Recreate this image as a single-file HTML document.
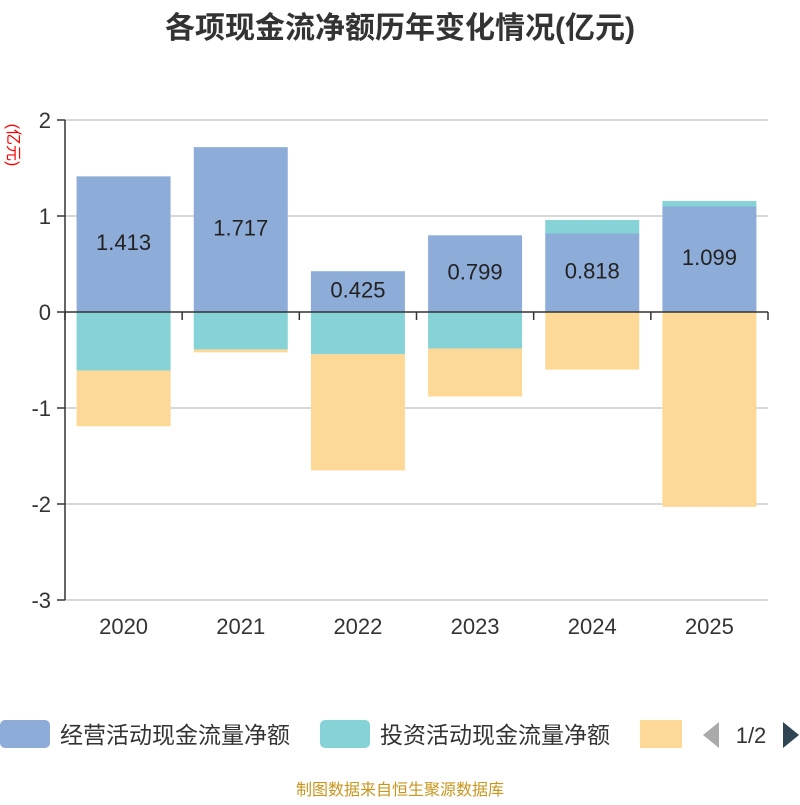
<!DOCTYPE html>
<html><head><meta charset="utf-8"><style>
body{margin:0;background:#fff;width:800px;height:800px;overflow:hidden;font-family:"Liberation Sans","Noto Sans CJK SC",sans-serif}
</style></head><body>
<svg id="c" width="800" height="800" xmlns="http://www.w3.org/2000/svg" font-family="Liberation Sans, Noto Sans CJK SC, sans-serif">
<text x="400" y="38" text-anchor="middle" font-size="30" font-weight="bold" fill="#333">各项现金流净额历年变化情况(亿元)</text>
<text transform="translate(8,145) rotate(90)" text-anchor="middle" font-size="16" fill="red">(亿元)</text>
<g id="grid"></g><g id="bars"></g><g id="axes"></g>
<g>
<rect x="0" y="720" width="50" height="28" rx="5" fill="#8eacd8"/>
<text x="60" y="743" font-size="23" fill="#333">经营活动现金流量净额</text>
<rect x="320" y="720" width="50" height="28" rx="5" fill="#85d3d6"/>
<text x="380" y="743" font-size="23" fill="#333">投资活动现金流量净额</text>
<rect x="640" y="720" width="42" height="28" fill="#fed896"/>
<polygon points="719,722 719,748 703,735" fill="#aaa"/>
<text x="751" y="743" text-anchor="middle" font-size="22" fill="#333">1/2</text>
<polygon points="783,722 783,748 799,735" fill="#2f4554"/>
</g>
<text x="400" y="795" text-anchor="middle" font-size="16" fill="#c8961e">制图数据来自恒生聚源数据库</text>
</svg>
<script>
const categories=["2020","2021","2022","2023","2024","2025"];
const operating=[1.413,1.717,0.425,0.799,0.818,1.099];
const investing=[-0.61,-0.39,-0.44,-0.38,0.14,0.057];
const financing=[-0.58,-0.03,-1.21,-0.5,-0.6,-2.03];
const yTicks=[2,1,0,-1,-2,-3];
const NS="http://www.w3.org/2000/svg";
const X0=65,X1=768,Y0=312,PU=96;
const y=v=>Y0-v*PU;
const cw=(X1-X0)/categories.length;
const xc=i=>X0+cw*(i+0.5);
function mk(t,a,p){const e=document.createElementNS(NS,t);for(const k in a)e.setAttribute(k,a[k]);p.appendChild(e);return e;}
const grid=document.getElementById('grid'),bars=document.getElementById('bars'),axes=document.getElementById('axes');
yTicks.forEach(t=>{
 if(t!==0){const l=mk('line',{x1:X0,x2:X1,y1:y(t),y2:y(t),stroke:'#ccc','stroke-width':1.5},grid);
 
 }
 const tk=mk('line',{x1:X0-8,x2:X0,y1:y(t),y2:y(t),stroke:'#333','stroke-width':1.5},axes);
 
 
 const tx=mk('text',{x:X0-14,y:y(t)+8,'text-anchor':'end','font-size':22,fill:'#333'},axes);tx.textContent=t;
 
 
});
const bw=94;
categories.forEach((c,i)=>{
 let pos=0,neg=0;
 [[operating,'#8eacd8','operating'],[investing,'#85d3d6','investing'],[financing,'#fed896','financing']].forEach(([arr,col,nm])=>{
  const v=arr[i];let top,bot;
  if(v>=0){top=y(pos+v);bot=y(pos);pos+=v;}else{top=y(neg);bot=y(neg+v);neg+=v;}
  const r=mk('rect',{x:xc(i)-bw/2,y:top,width:bw,height:bot-top,fill:col},bars);
  
  
 });
 const lb=mk('text',{x:xc(i),y:y(operating[i]/2)+6,'text-anchor':'middle','font-size':22,fill:'#222'},bars);
 lb.textContent=operating[i].toFixed(3);
 
 
 const xl=mk('text',{x:xc(i),y:634,'text-anchor':'middle','font-size':22,fill:'#333'},axes);xl.textContent=c;
 
 
});
for(let i=0;i<=categories.length;i++){const t=mk('line',{x1:X0+cw*i,x2:X0+cw*i,y1:Y0,y2:Y0+8,stroke:'#333','stroke-width':1.5},axes);
 
 }
const xa=mk('line',{x1:X0,x2:X1,y1:Y0,y2:Y0,stroke:'#333','stroke-width':1.5},axes);


const ya=mk('line',{x1:X0,x2:X0,y1:y(2),y2:y(-3),stroke:'#333','stroke-width':1.5},axes);


</script>
</body></html>
